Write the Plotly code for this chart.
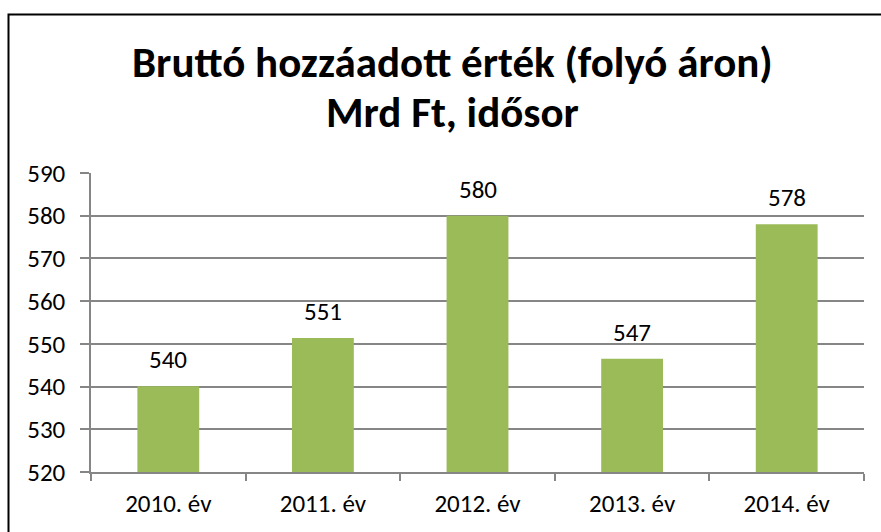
import plotly.graph_objects as go

categories = ["2010. év", "2011. év", "2012. év", "2013. év", "2014. év"]
values = [540.1, 551.4, 580.0, 546.5, 578.0]
labels = ["540", "551", "580", "547", "578"]
y_ticks = [520, 530, 540, 550, 560, 570, 580, 590]
title_lines = ["Bruttó hozzáadott érték (folyó áron)", "Mrd Ft, idősor"]

W, H = 881, 532
L, R, T, B = 91, 17, 173, 60
PW, PH = W - L - R, H - T - B

font_fam = "Carlito, Calibri, Liberation Sans, Arial, sans-serif"


def px_x(x):
    return (x - L) / PW


def px_y(y):
    return 1 - (y - T) / PH


fig = go.Figure()
fig.add_trace(go.Bar(
    x=categories, y=values, width=0.4,
    marker=dict(color="#9BBB59", line=dict(width=0)),
    hoverinfo="x+y",
))
for c, v, t in zip(categories, values, labels):
    fig.add_annotation(x=c, y=v, text=t, showarrow=False, yanchor="bottom",
                       yshift=9, font=dict(size=25, color="#000000", family=font_fam))

for line, cy in zip(title_lines, [62, 112.5]):
    fig.add_annotation(xref="paper", yref="paper", x=px_x(452.5), y=px_y(cy),
                       text="<b>" + line + "</b>", showarrow=False,
                       xanchor="center", yanchor="middle",
                       font=dict(size=43, color="#000000", family=font_fam))

fig.update_layout(
    width=W, height=H,
    margin=dict(l=L, r=R, t=T, b=B, pad=0),
    paper_bgcolor="white", plot_bgcolor="white",
    showlegend=False,
    font=dict(family=font_fam, color="#000000", size=25),
    xaxis=dict(
        type="category", showgrid=False, showline=True, linecolor="#868686", linewidth=1.5,
        ticks="outside", tickson="boundaries", ticklen=7, tickcolor="#868686", tickwidth=1.5,
        tickfont=dict(size=25, color="#000000", family=font_fam),
        ticklabelstandoff=8, automargin=False,
    ),
    yaxis=dict(
        range=[520, 590], tickvals=y_ticks, showgrid=True, gridcolor="#868686", gridwidth=1.5,
        showline=True, linecolor="#868686", linewidth=1.5, zeroline=False,
        ticks="outside", ticklen=9, tickcolor="#868686", tickwidth=1.5,
        tickfont=dict(size=25, color="#000000", family=font_fam),
        ticklabelstandoff=10, automargin=False,
    ),
    shapes=[dict(type="rect", xref="paper", yref="paper",
                 x0=px_x(8.5), x1=px_x(W + 20),
                 y0=px_y(H + 20), y1=px_y(14.5),
                 line=dict(color="#000000", width=2), fillcolor="rgba(0,0,0,0)", layer="above")],
)

fig.write_html("out.html", config={"displayModeBar": False},
               post_script="document.body.style.margin='0';document.body.style.padding='0';")
